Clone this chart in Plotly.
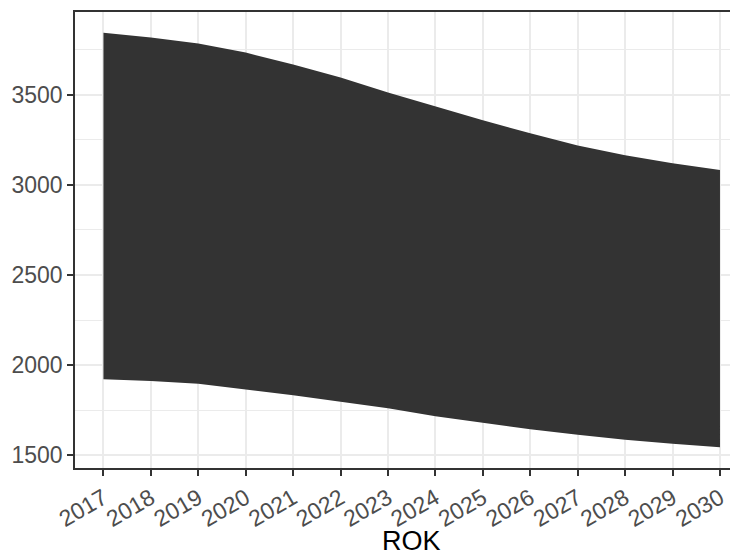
import plotly.graph_objects as go

years = [2017, 2018, 2019, 2020, 2021, 2022, 2023, 2024, 2025, 2026, 2027, 2028, 2029, 2030]
upper = [3844, 3817, 3784, 3734, 3668, 3596, 3513, 3435, 3358, 3286, 3219, 3164, 3120, 3083]
lower = [1922, 1912, 1897, 1866, 1832, 1797, 1760, 1716, 1679, 1644, 1614, 1586, 1563, 1544]
y_ticks = [1500, 2000, 2500, 3000, 3500]
x_title = "ROK"

fill_col = "#333333"
grid_col = "#EBEBEB"
axis_col = "#333333"
tick_font = dict(family="Liberation Sans, Arial, sans-serif", size=23, color="#4D4D4D")

fig = go.Figure()
fig.add_trace(go.Scatter(x=years, y=lower, mode="lines", line=dict(width=0, color=fill_col),
                         showlegend=False, hoverinfo="skip"))
fig.add_trace(go.Scatter(x=years, y=upper, mode="lines", line=dict(width=0, color=fill_col),
                         fill="tonexty", fillcolor=fill_col, showlegend=False))

# page body has an 8px margin, so the figure is sized to fill the rest of the window
fig.update_layout(
    width=730, height=551,
    margin=dict(l=67, r=0, t=4, b=91, autoexpand=False),
    plot_bgcolor="white", paper_bgcolor="white",
    xaxis=dict(
        range=[2016.4, 2030.38],
        tickmode="array", tickvals=years, ticktext=[str(y) for y in years],
        tickangle=-30, tickfont=tick_font, automargin=False,
        showgrid=True, gridcolor=grid_col, gridwidth=1.6,
        showline=True, linecolor=axis_col, linewidth=1.6, mirror=True,
        ticks="outside", ticklen=6, tickwidth=1.6, tickcolor=axis_col,
        zeroline=False,
    ),
    yaxis=dict(
        range=[1429, 3959],
        tickmode="array", tickvals=y_ticks, ticktext=[str(v) for v in y_ticks],
        tickfont=tick_font, automargin=False,
        showgrid=True, gridcolor=grid_col, gridwidth=1.6,
        minor=dict(tickvals=[1750, 2250, 2750, 3250, 3750], showgrid=True,
                   gridcolor=grid_col, gridwidth=1.2, ticks=""),
        showline=True, linecolor=axis_col, linewidth=1.6,
        ticks="outside", ticklen=6, tickwidth=1.6, tickcolor=axis_col,
        zeroline=False,
    ),
    annotations=[dict(text=x_title, xref="paper", yref="paper", x=0.508, y=-0.161,
                      xanchor="center", yanchor="middle", showarrow=False,
                      font=dict(family="Liberation Sans, Arial, sans-serif", size=27, color="black"))],
)

fig.write_html("out.html")
